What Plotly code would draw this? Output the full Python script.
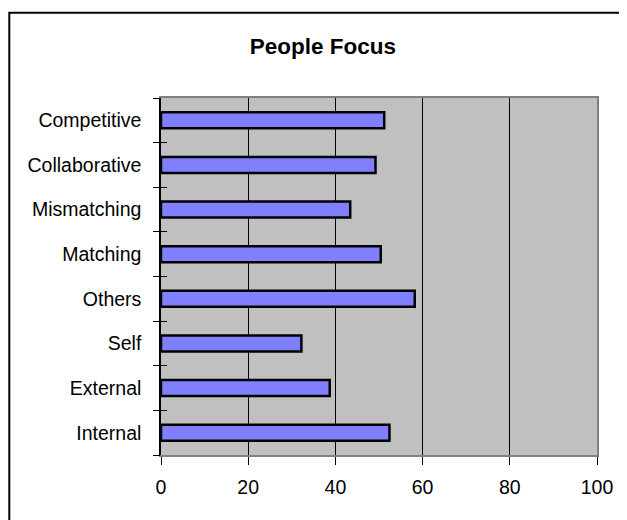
import plotly.graph_objects as go

categories = ["Internal", "External", "Self", "Others", "Matching", "Mismatching", "Collaborative", "Competitive"]
values = [52.4, 38.7, 32.2, 58.2, 50.4, 43.4, 49.2, 51.2]
x_ticks = [0, 20, 40, 60, 80, 100]
title_text = "People Focus"

FONT = "Liberation Sans, Arial, sans-serif"
pos = list(range(len(categories)))
bounds = [p - 0.5 for p in pos] + [pos[-1] + 0.5]
yrange = [-0.5, len(categories) - 0.5]

# page body has an 8px margin: work in figure coordinates = page - 8
OFF = 8
W, H = 627 - OFF, 520 - OFF
L = 160.7 - OFF
R = W - (596.7 - OFF)
T = 98 - OFF
B = H - (455 - OFF)
pw, ph = W - L - R, H - T - B

fig = go.Figure()
fig.add_trace(go.Bar(
    x=values, y=pos, orientation="h",
    marker=dict(color="#8080FF", line=dict(color="#000000", width=2.5)),
    width=0.36, hoverinfo="x+y",
))

fig.update_layout(
    width=W, height=H,
    margin=dict(l=L, r=R, t=T, b=B, pad=0),
    paper_bgcolor="#FFFFFF",
    plot_bgcolor="#C0C0C0",
    showlegend=False,
    font=dict(family=FONT, size=19.5, color="#000000"),
    title=dict(text="<b>" + title_text + "</b>", x=(323 - OFF) / W, xanchor="center",
               y=1 - (46 - OFF) / H, yanchor="middle", yref="container",
               font=dict(family=FONT, size=22.5, color="#000000")),
    xaxis=dict(range=[0, 100], tickvals=x_ticks, ticks="outside", ticklen=8, tickwidth=1,
               tickcolor="#000000", showgrid=True, gridcolor="#000000", gridwidth=1,
               showline=True, linecolor="#808080", linewidth=2, mirror=True,
               zeroline=False, ticklabelstandoff=6, fixedrange=True),
    yaxis=dict(range=yrange, tickvals=pos, ticktext=categories, ticks="",
               showgrid=False, zeroline=False, showline=True, linecolor="#000000",
               linewidth=1.5, ticklabelstandoff=14, fixedrange=True),
    yaxis2=dict(range=yrange, overlaying="y", side="left", tickvals=bounds, ticks="outside",
                ticklen=7, tickcolor="#000000", tickwidth=1, showticklabels=False,
                showgrid=False, zeroline=False, showline=False, fixedrange=True),
    yaxis3=dict(range=yrange, overlaying="y", side="left", tickvals=bounds, ticks="inside",
                ticklen=6, tickcolor="#000000", tickwidth=1, showticklabels=False,
                showgrid=False, zeroline=False, showline=False, fixedrange=True),
    yaxis4=dict(range=yrange, overlaying="y", side="right", showticklabels=False, ticks="",
                showgrid=False, zeroline=False, showline=True, linecolor="#808080",
                linewidth=2, fixedrange=True),
    bargap=0.64,
)

# invisible traces to activate overlay axes
for ax in ["y2", "y3", "y4"]:
    fig.add_trace(go.Scatter(x=[None], y=[None], yaxis=ax, showlegend=False, hoverinfo="skip"))

# outer chart border (extends past the right and bottom edges of the window)
bx, by = 1.0, 12.7 - OFF
fig.add_shape(type="rect", xref="paper", yref="paper",
              x0=(bx - L) / pw, x1=(W + 20 - L) / pw,
              y0=-(H + 20 - (H - B)) / ph, y1=((H - B) - by) / ph,
              line=dict(color="#000000", width=2), fillcolor="rgba(0,0,0,0)", layer="below")

fig.write_html("out.html")
